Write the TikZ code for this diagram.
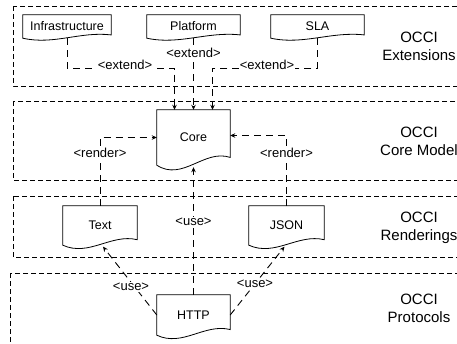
\documentclass[tikz,border=0pt]{standalone}
\usepackage{fontspec}
\setmainfont{Liberation Sans}
\usetikzlibrary{calc,arrows.meta}
\newcommand\docshape[1]{\draw[line width=0.8pt] let \p1=(#1.north west), \p2=(#1.south east), \n1={\y1-\y2}, \n2={\x2-\x1} in (\x2,{\y2+0.14*\n1}) -- (\x2,\y1) -- (\x1,\y1) -- (\x1,\y2) .. controls ({\x1+0.35*\n2},{\y2-0.3*\n1}) and ({\x2-0.35*\n2},{\y2+0.3*\n1}) .. (\x2,{\y2+0.14*\n1}) -- cycle;}
\begin{document}
\begin{tikzpicture}[x=1pt,y=-1pt,
  layer/.style={draw, dash pattern=on 5pt off 3pt, line width=0.7pt},
  docnode/.style={inner sep=0pt, font=\fontsize{12.5}{14}\selectfont},
  conn/.style={draw, line width=0.9pt, dash pattern=on 7pt off 5pt},
  arr/.style={-{Stealth[length=5pt,width=4.5pt]}},
  lbl/.style={fill=white, inner sep=1pt, font=\fontsize{13}{15}\selectfont},
  side/.style={align=center, font=\fontsize{15}{18}\selectfont}]
\useasboundingbox (0,0) rectangle (457,343);
% layers
\draw[layer] (13,6) rectangle (475,86);
\draw[layer] (13,101) rectangle (475,180);
\draw[layer] (13,196) rectangle (475,257);
\draw[layer] (10,273) rectangle (475,365);
% side labels
\node[side] (sext) at (419,46) {OCCI\\Extensions};
\node[side] (score) at (419,141) {OCCI\\Core Model};
\node[side] (srend) at (419,227.5) {OCCI\\Renderings};
\node[side] (sprot) at (419,308.5) {OCCI\\Protocols};
% nodes
\node[docnode, minimum width=88pt, minimum height=23pt] (infra) at (67,26.5) {Infrastructure};
\node[docnode, minimum width=93pt, minimum height=23pt] (platform) at (193.5,26.5) {Platform};
\node[docnode, minimum width=93pt, minimum height=23pt] (sla) at (317.5,26.5) {SLA};
\node[docnode, minimum width=73pt, minimum height=55pt] (core) at (193.5,137.5) {Core};
\node[docnode, minimum width=74pt, minimum height=39pt] (text) at (100,225.5) {Text};
\node[docnode, minimum width=75pt, minimum height=39pt] (json) at (286.5,225.5) {JSON};
\node[docnode, minimum width=73pt, minimum height=40pt] (http) at (193.5,315) {HTTP};
\docshape{infra}
\docshape{platform}
\docshape{sla}
\docshape{core}
\docshape{text}
\docshape{json}
\docshape{http}
% connectors
\draw[conn,arr] (infra.south) -- (infra.south |- 0,68) -| ([xshift=-19pt]core.north);
\draw[conn,arr] (platform.south) -- (core.north);
\draw[conn,arr] (sla.south) -- (sla.south |- 0,68) -| ([xshift=19pt]core.north);
\draw[conn,arr] (text.north) |- (core.west);
\draw[conn,arr] (json.north) |- ([yshift=2pt]core.east);
\draw[conn,arr] (http.north) -- ([yshift=-2pt]core.south);
\draw[conn,arr] (http.west) -- ([xshift=3pt,yshift=-1.5pt]text.south);
\draw[conn,arr] (http.east) -- ([xshift=-2pt,yshift=-1.5pt]json.south);
% labels
\node[lbl] (l1) at (125,65) {<extend>};
\node[lbl] (l2) at (193.5,53) {<extend>};
\node[lbl] (l3) at (267,65) {<extend>};
\node[lbl] (l4) at (100,153) {<render>};
\node[lbl] (l5) at (286.5,153) {<render>};
\node[lbl] (l6) at (193.5,222) {<use>};
\node[lbl] (l7) at (131,287) {<use>};
\node[lbl] (l8) at (255,284) {<use>};
\end{tikzpicture}
\end{document}
